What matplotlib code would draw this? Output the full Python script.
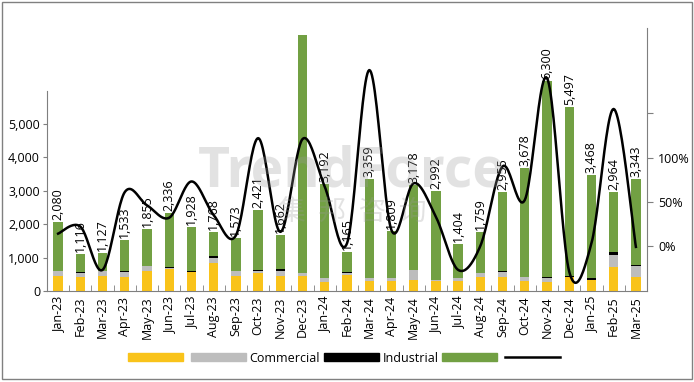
import numpy as np
import matplotlib
matplotlib.use("Agg")
import matplotlib.pyplot as plt
from matplotlib.patches import Rectangle
from matplotlib.lines import Line2D
from matplotlib.patches import Patch

plt.rcParams['font.family'] = ['Open Sans', 'Noto Sans CJK SC', 'DejaVu Sans']

months = ["Jan-23", "Feb-23", "Mar-23", "Apr-23", "May-23", "Jun-23", "Jul-23", "Aug-23", "Sep-23",
          "Oct-23", "Nov-23", "Dec-23", "Jan-24", "Feb-24", "Mar-24", "Apr-24", "May-24", "Jun-24",
          "Jul-24", "Aug-24", "Sep-24", "Oct-24", "Nov-24", "Dec-24", "Jan-25", "Feb-25", "Mar-25"]
totals = [2080, 1116, 1127, 1533, 1855, 2336, 1928, 1768, 1573, 2421, 1662, 7650, 3192, 1165, 3359,
          1809, 3178, 2992, 1404, 1759, 2955, 3678, 6300, 5497, 3468, 2964, 3343]
total_labels = ["2,080", "1,116", "1,127", "1,533", "1,855", "2,336", "1,928", "1,768", "1,573",
                "2,421", "1,662", "", "3,192", "1,165", "3,359", "1,809", "3,178", "2,992",
                "1,404", "1,759", "2,955", "3,678", "6,300", "5,497", "3,468", "2,964", "3,343"]
residential = [450, 430, 450, 430, 600, 650, 560, 850, 440, 540, 450, 450, 280, 480, 300, 290, 330,
               290, 300, 430, 430, 300, 280, 430, 340, 710, 410]
commercial = [150, 110, 140, 140, 150, 40, 20, 150, 170, 50, 150, 100, 110, 70, 100, 100, 290, 40,
              100, 120, 130, 110, 120, 0, 0, 370, 340]
industrial = [0, 20, 10, 40, 0, 30, 30, 40, 0, 30, 70, 0, 0, 30, 0, 0, 0, 0, 0, 0, 50, 0, 20, 30, 50, 90, 30]
growth = [14, 22, -27, 61, 46, 32, 73, 35, 12, 122, 16, 121, 67, 3, 199, 18, 71, 33, -27, 0, 90, 52,
          190, -29, 3, 155, -1]
legend_labels = ["", "Commercial", "Industrial", "", ""]
right_ticks = [0, 50, 100, 150]
right_tick_labels = ["0%", "50%", "100%", ""]

c_yel = "#F9C31A"
c_gray = "#BDBDBD"
c_blk = "#000000"
c_grn = "#72A043"

fig = plt.figure(figsize=(6.94, 3.82), dpi=100)
W, H = 694, 382
ax = fig.add_axes([47 / W, 1 - 291 / H, 600 / W, (291 - 28) / H])

x = np.arange(len(months))
res = np.array(residential, float)
com = np.array(commercial, float)
ind = np.array(industrial, float)
tot = np.array(totals, float)
grn = tot - res - com - ind
bw = 0.42
ax.bar(x, res, bw, color=c_yel, zorder=2)
ax.bar(x, com, bw, bottom=res, color=c_gray, zorder=2)
ax.bar(x, ind, bw, bottom=res + com, color=c_blk, zorder=2)
ax.bar(x, grn, bw, bottom=res + com + ind, color=c_grn, zorder=2)

ymax = (291 - 28) / 33.4 * 1000
ax.set_ylim(0, ymax)
ax.set_xlim(-0.5, len(months) - 0.5)
ax.set_yticks([0, 1000, 2000, 3000, 4000, 5000])
ax.set_yticklabels(["0", "1,000", "2,000", "3,000", "4,000", "5,000"], fontsize=9)
ax.spines['left'].set_bounds(0, 6000)
ax.spines['top'].set_visible(False)
ax.spines['right'].set_visible(False)
ax.spines['left'].set_color("#7f7f7f")
ax.spines['bottom'].set_color("#7f7f7f")
ax.tick_params(axis='y', length=3, color="#7f7f7f", pad=2)
ax.set_xticks(x)
ax.set_xticklabels(months, rotation=90, fontsize=9)
ax.tick_params(axis='x', length=0, pad=4)
ax.set_xticks(np.arange(-0.5, len(months), 1), minor=True)
ax.tick_params(axis='x', which='minor', direction='in', length=4, color="#7f7f7f")

for xi, t, lab in zip(x, tot, total_labels):
    if lab:
        ax.text(xi, t + 60, lab, rotation=90, ha='center', va='bottom', fontsize=9, zorder=4)

ax2 = ax.twinx()
pix = 50 / 44.2
lo = -(291 - 246) * pix
hi = (246 - 28) * pix
ax2.set_ylim(lo, hi)
ax2.set_xlim(-0.5, len(months) - 0.5)
for s in ['top', 'left', 'bottom']:
    ax2.spines[s].set_visible(False)
ax2.spines['right'].set_color("#7f7f7f")
ax2.set_yticks(right_ticks)
ax2.set_yticklabels(right_tick_labels, fontsize=9)
ax2.tick_params(axis='y', length=4, color="#7f7f7f", pad=4)

# smooth curve (Catmull-Rom) through the points, like Excel's smoothed line
g = np.array(growth, float)
px, py = [], []
n = len(g)
for i in range(n - 1):
    p0 = np.array([x[max(i - 1, 0)], g[max(i - 1, 0)]], float)
    p1 = np.array([x[i], g[i]], float)
    p2 = np.array([x[i + 1], g[i + 1]], float)
    p3 = np.array([x[min(i + 2, n - 1)], g[min(i + 2, n - 1)]], float)
    t = np.linspace(0, 1, 25)[:, None]
    c1 = p1 + (p2 - p0) / 6
    c2 = p2 - (p3 - p1) / 6
    seg = ((1 - t) ** 3) * p1 + 3 * ((1 - t) ** 2) * t * c1 + 3 * (1 - t) * t ** 2 * c2 + t ** 3 * p2
    px.extend(seg[:, 0]); py.extend(seg[:, 1])
ax2.plot(px, py, color="black", lw=1.8, zorder=5)

# watermark
fig.text(352 / W, 1 - 172 / H, "TrendForce", fontsize=40, fontweight='bold', color="#9a9a9a",
         alpha=0.28, ha='center', va='center', zorder=10)
fig.text(352 / W, 1 - 212 / H, "集  邦  咨  询", fontsize=20, color="#9a9a9a", alpha=0.28,
         ha='center', va='center', zorder=10, family=['Noto Sans CJK SC', 'DejaVu Sans'])

handles = [Patch(color=c_yel), Patch(color=c_gray), Patch(color=c_blk), Patch(color=c_grn),
           Line2D([], [], color="black", lw=1.8)]
fig.legend(handles, legend_labels, loc='center', bbox_to_anchor=(346 / W, 1 - 358 / H), ncol=5,
           frameon=False, fontsize=9, handlelength=4.4, handleheight=0.6, handletextpad=0.3,
           columnspacing=0.3)

fig.add_artist(Rectangle((1.5 / W, 3 / H), 690 / W, 377 / H, transform=fig.transFigure,
                         fill=False, edgecolor="#808080", lw=1))

fig.savefig("out.png", dpi=100)
